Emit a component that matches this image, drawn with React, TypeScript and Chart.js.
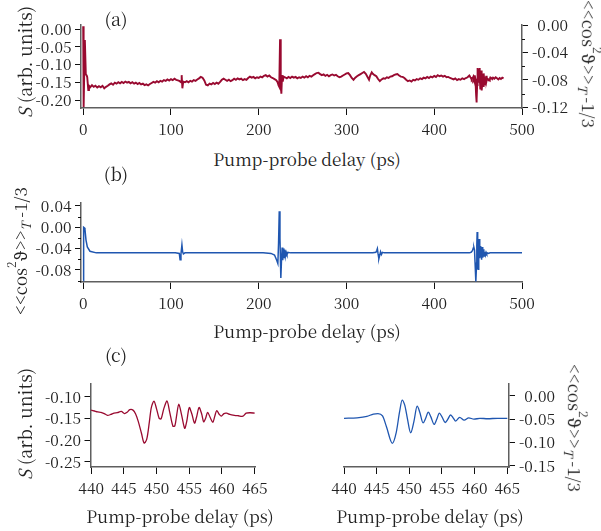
import React, { useEffect, useRef } from "react";
import { Chart, registerables } from "chart.js";
Chart.register(...registerables);

const FONT = '"Noto Serif CJK SC", "Noto Serif", serif';
const RED = "#990a30";
const BLUE = "#1f56b0";
const AXIS = "#5f5f5f";
const TEXT = "#222222";

// ---------- tick values ----------
const xTicksFull = [0, 100, 200, 300, 400, 500];
const xTicksZoom = [440, 445, 450, 455, 460, 465];
const yTicksA = [0, -0.05, -0.1, -0.15, -0.2];
const yTicksA2 = [0, -0.04, -0.08, -0.12];
const yMinorA2 = [-0.02, -0.06, -0.1];
const yTicksB = [0.04, 0, -0.04, -0.08];
const yMinorB = [0.02, -0.02, -0.06, -0.1];
const yTicksC1 = [-0.1, -0.15, -0.2, -0.25];
const yTicksC2 = [0, -0.05, -0.1, -0.15];

// ---------- measured signal S (delay ps, value) ----------
const measEarly: [number, number][] = [
  [0, 0.008], [0.5, -0.22], [1.9, -0.031], [3.0, -0.128], [4.0, -0.131], [4.6, -0.136], [5.8, -0.172],
  [6.6, -0.160], [8, -0.164], [10, -0.158], [12, -0.163], [14, -0.160], [16, -0.165], [18, -0.161],
  [20, -0.164], [22, -0.160], [24, -0.167], [26, -0.163], [28, -0.160], [30, -0.156], [32, -0.153],
  [34, -0.157], [36, -0.151], [38, -0.154], [40, -0.150], [42, -0.153], [44, -0.149], [46, -0.152],
  [48, -0.148], [50, -0.151], [52, -0.149], [54, -0.153], [56, -0.150], [58, -0.154], [60, -0.151],
  [62, -0.155], [64, -0.152], [66, -0.156], [68, -0.154], [70, -0.158], [72, -0.156], [74, -0.159],
  [76, -0.155], [78, -0.152], [80, -0.149], [82, -0.151], [84, -0.147], [86, -0.150], [88, -0.146],
  [90, -0.148], [92, -0.144], [94, -0.146], [96, -0.142], [98, -0.145], [100, -0.141], [102, -0.144],
  [104, -0.140], [106, -0.143], [108, -0.145], [110, -0.147],
];
const measMid: [number, number][] = [
  [111.5, -0.150], [112.2, -0.130], [113, -0.167], [114, -0.148], [116, -0.150], [118, -0.147],
  [120, -0.150], [122, -0.146], [124, -0.148], [126, -0.144], [128, -0.146], [130, -0.142], [132, -0.139],
  [134, -0.135], [136, -0.137], [138, -0.145], [140, -0.157], [142, -0.159], [144, -0.154], [146, -0.156],
  [148, -0.152], [150, -0.155], [152, -0.151], [154, -0.154], [156, -0.149], [158, -0.143], [160, -0.140],
  [162, -0.143], [164, -0.146], [166, -0.143], [168, -0.147], [170, -0.144], [172, -0.140], [174, -0.143],
  [176, -0.139], [178, -0.142], [180, -0.140], [182, -0.144], [184, -0.141], [186, -0.143], [188, -0.138],
  [190, -0.134], [192, -0.137], [194, -0.135], [196, -0.139], [198, -0.136], [200, -0.138], [202, -0.134],
  [204, -0.136], [206, -0.132], [208, -0.130], [210, -0.134], [212, -0.131], [214, -0.136], [216, -0.138],
  [218, -0.141], [220, -0.144],
];
const measHalf: [number, number][] = [
  [221.5, -0.150], [222.6, -0.159], [223.4, -0.163], [224.3, -0.029], [225.1, -0.158], [225.8, -0.182],
  [226.6, -0.130], [227.4, -0.148], [228.3, -0.134],
];
const measLate: [number, number][] = [
  [230, -0.136], [232, -0.139], [234, -0.135], [236, -0.138], [238, -0.134], [240, -0.137], [242, -0.135],
  [244, -0.139], [246, -0.136], [248, -0.138], [250, -0.134], [252, -0.137], [254, -0.133], [256, -0.136],
  [258, -0.132], [260, -0.134], [262, -0.130], [264, -0.127], [266, -0.124], [268, -0.123], [270, -0.127],
  [272, -0.130], [274, -0.128], [276, -0.132], [278, -0.129], [280, -0.133], [282, -0.130], [284, -0.128],
  [286, -0.131], [288, -0.129], [290, -0.133], [292, -0.136], [294, -0.134], [296, -0.131], [298, -0.128],
  [300, -0.125], [302, -0.124], [304, -0.130], [306, -0.138], [308, -0.143], [310, -0.137], [312, -0.133],
  [314, -0.130], [316, -0.127], [318, -0.124], [320, -0.121], [322, -0.126], [324, -0.135], [325.7, -0.143],
  [327, -0.131], [328.8, -0.122], [330, -0.126], [332, -0.130], [334, -0.133], [336, -0.141], [338, -0.147],
  [340, -0.142], [342, -0.139], [344, -0.140], [346, -0.136], [348, -0.138], [350, -0.134], [352, -0.133],
  [354, -0.130], [356, -0.128], [358, -0.127], [360, -0.131], [362, -0.134], [364, -0.135], [366, -0.138],
  [368, -0.143], [370, -0.147], [372, -0.145], [374, -0.148], [376, -0.143], [378, -0.145], [380, -0.141],
  [382, -0.143], [384, -0.139], [386, -0.141], [388, -0.137], [390, -0.139], [392, -0.135], [394, -0.138],
  [396, -0.134], [398, -0.136], [400, -0.132], [402, -0.135], [404, -0.130], [406, -0.133], [408, -0.131],
  [410, -0.134], [412, -0.132], [414, -0.136], [416, -0.135], [418, -0.138], [420, -0.140], [422, -0.142],
  [424, -0.139], [426, -0.144], [428, -0.141], [430, -0.143], [432, -0.139], [434, -0.141], [436, -0.138],
  [438, -0.136],
];
// full revival region, measured (also panel c, left)
const measRevival: [number, number][] = [
  [440.0, -0.131], [440.5, -0.133], [441.0, -0.135], [441.5, -0.136], [442.0, -0.139], [442.5, -0.143],
  [443.0, -0.141], [443.5, -0.138], [444.0, -0.137], [444.6, -0.134], [445.1, -0.139], [445.5, -0.136],
  [445.9, -0.130], [446.4, -0.131], [446.8, -0.140], [447.2, -0.157], [447.7, -0.185], [448.1, -0.207],
  [448.5, -0.198], [448.9, -0.158], [449.2, -0.125], [449.6, -0.110], [450.0, -0.128], [450.4, -0.150],
  [450.7, -0.151], [451.1, -0.128], [451.6, -0.110], [452.0, -0.135], [452.5, -0.168], [452.8, -0.167],
  [453.1, -0.140], [453.4, -0.117], [453.8, -0.140], [454.3, -0.173], [454.6, -0.158], [455.0, -0.125],
  [455.4, -0.140], [455.8, -0.161], [456.1, -0.148], [456.5, -0.125], [456.9, -0.140], [457.2, -0.158],
  [457.5, -0.150], [457.8, -0.136], [458.2, -0.148], [458.6, -0.159], [458.9, -0.145], [459.2, -0.132],
  [459.6, -0.141], [459.9, -0.145], [460.3, -0.139], [460.7, -0.138], [461.2, -0.141], [461.9, -0.143],
  [462.5, -0.144], [463.2, -0.145], [463.7, -0.138], [464.3, -0.137], [465.0, -0.138],
];
const measTail: [number, number][] = [
  [466, -0.141], [467, -0.137], [468.5, -0.140], [470, -0.136], [471.5, -0.139], [473, -0.142],
  [474.5, -0.138], [476, -0.141], [477.5, -0.137], [479, -0.139],
];

// ---------- simulated alignment <<cos^2>> - 1/3 ----------
const simEarly: [number, number][] = [
  [0, -0.1], [0.5, 0.0], [1.2, -0.001], [2.0, -0.004], [3.2, -0.024], [4.7, -0.037], [7.7, -0.045],
  [15, -0.048], [105, -0.048],
];
const simQuarter: [number, number][] = [
  [109.5, -0.049], [110.4, -0.061], [111.4, -0.050], [112.5, -0.033], [113.3, -0.046], [114.2, -0.050],
  [116, -0.048], [205, -0.048],
];
const simHalf: [number, number][] = [
  [214, -0.049], [218, -0.052], [220.5, -0.062], [221.8, -0.068], [222.6, -0.030], [223.4, 0.030],
  [224.2, -0.020], [225.2, -0.095], [226.0, -0.060], [226.7, -0.038], [227.4, -0.062], [228.1, -0.040],
  [228.8, -0.058], [229.5, -0.043], [230.3, -0.055], [231.2, -0.046], [232.2, -0.051], [233.5, -0.047],
  [236, -0.048], [330, -0.048],
];
const simThreeQuarter: [number, number][] = [
  [333.5, -0.047], [334.6, -0.043], [335.2, -0.040], [336.0, -0.050], [336.9, -0.059], [337.8, -0.053],
  [338.8, -0.046], [339.8, -0.051], [341, -0.047], [343, -0.048],
];
// full revival region, simulated (also panel c, right)
const simRevival: [number, number][] = [
  [440, -0.048], [442, -0.047], [443.5, -0.044], [444.5, -0.039], [445.2, -0.038], [445.9, -0.043],
  [446.5, -0.066], [447.4, -0.1015], [448.0, -0.078], [448.5, -0.035], [448.9, -0.009], [449.3, -0.020],
  [449.7, -0.048], [450.2, -0.079], [450.7, -0.055], [451.2, -0.022], [451.6, -0.035], [452.1, -0.058],
  [452.5, -0.048], [452.9, -0.035], [453.3, -0.045], [453.8, -0.061], [454.2, -0.050], [454.6, -0.037],
  [455.0, -0.045], [455.5, -0.057], [455.9, -0.050], [456.3, -0.041], [456.7, -0.047], [457.1, -0.054],
  [457.7, -0.046], [458.4, -0.052], [459.1, -0.047], [459.9, -0.050], [460.8, -0.048], [462, -0.049],
  [463.5, -0.048], [465, -0.048],
];
const simTail: [number, number][] = [[470, -0.048], [500, -0.048]];

const toXY = (arr: [number, number][]) => arr.map(([x, y]) => ({ x, y }));

// ---------- scale helpers ----------
const tickFont = { family: FONT, size: 15.5 };

function xScale(min: number, max: number, ticks: number[], height: number) {
  return {
    type: "linear",
    position: "bottom",
    min,
    max,
    afterBuildTicks: (s: any) => {
      s.ticks = ticks.map((v) => ({ value: v }));
    },
    afterFit: (s: any) => {
      s.height = height;
    },
    ticks: {
      autoSkip: false,
      maxRotation: 0,
      minRotation: 0,
      padding: 5,
      color: TEXT,
      font: tickFont,
      callback: (v: any) => String(v),
    },
    grid: { display: true, drawOnChartArea: false, drawTicks: true, tickLength: 7, tickColor: "#111", tickWidth: 1 },
    border: { display: true, color: AXIS, width: 1.5 },
  };
}

function yScale(position: string, min: number, max: number, ticks: number[], width: number, far = false) {
  return {
    type: "linear",
    position,
    min,
    max,
    afterBuildTicks: (s: any) => {
      s.ticks = ticks.map((v) => ({ value: v }));
    },
    afterFit: (s: any) => {
      s.width = width;
    },
    ticks: {
      autoSkip: false,
      padding: position === "left" ? 3.5 : 4,
      color: TEXT,
      font: tickFont,
      crossAlign: far ? "far" : "near",
      callback: (v: any) => Number(v).toFixed(2),
    },
    grid: { display: true, drawOnChartArea: false, drawTicks: true, tickLength: 6, tickColor: "#111", tickWidth: 1 },
    border: { display: true, color: AXIS, width: 1.5 },
  };
}

function minorPlugin(scaleId: string, values: number[], side: "left" | "right", length: number) {
  return {
    id: "minor_" + scaleId,
    afterDraw(chart: any) {
      const sc = chart.scales[scaleId];
      if (!sc) return;
      const ctx = chart.ctx;
      ctx.save();
      ctx.strokeStyle = "#111";
      ctx.lineWidth = 1;
      for (const v of values) {
        const y = Math.round(sc.getPixelForValue(v)) + 0.5;
        const x0 = side === "left" ? sc.right : sc.left;
        const x1 = side === "left" ? x0 - length : x0 + length;
        ctx.beginPath();
        ctx.moveTo(x0, y);
        ctx.lineTo(x1, y);
        ctx.stroke();
      }
      ctx.restore();
    },
  };
}

function baseOptions(padding: any, scales: any) {
  return {
    responsive: false,
    animation: false,
    devicePixelRatio: 1,
    layout: { padding },
    plugins: { legend: { display: false }, tooltip: { enabled: false } },
    elements: { point: { radius: 0 } },
    scales,
  };
}

function ChartCanvas({ left, top, width, height, make }: any) {
  const ref = useRef<HTMLCanvasElement | null>(null);
  useEffect(() => {
    const chart = new Chart(ref.current as HTMLCanvasElement, make());
    return () => chart.destroy();
  }, []);
  return (
    <canvas
      ref={ref}
      width={width}
      height={height}
      style={{ position: "absolute", left, top, width, height }}
    />
  );
}

function Label({ x, y, rot = 0, size = 17, children }: any) {
  return (
    <div
      style={{
        position: "absolute",
        left: x,
        top: y,
        transform: `translate(-50%, -50%) rotate(${rot}deg)`,
        whiteSpace: "nowrap",
        fontFamily: FONT,
        fontSize: size,
        color: TEXT,
        lineHeight: 1,
      }}
    >
      {children}
    </div>
  );
}

const CosTitle = () => (
  <span>
    &lt;&lt;cos
    <span style={{ fontSize: "0.7em", position: "relative", top: "-0.9em" }}>2</span>
    ϑ&gt;&gt;
    <span style={{ fontSize: "0.75em", position: "relative", top: "0.3em", fontStyle: "italic" }}>T</span>
    {" -1/3"}
  </span>
);

const STitle = () => (
  <span>
    <i>S</i> (arb. units)
  </span>
);

const makeA = () => ({
  type: "line",
  data: {
    datasets: [
      {
        data: toXY([...measEarly, ...measMid, ...measHalf, ...measLate, ...measRevival, ...measTail]),
        borderColor: RED,
        borderWidth: 1.9,
        tension: 0,
        yAxisID: "y",
      },
    ],
  },
  options: baseOptions(
    { top: 25, left: 0, right: 33, bottom: 0 },
    {
      x: xScale(-2.5, 500, xTicksFull, 37),
      y: yScale("left", -0.2225, 0.0113, yTicksA, 81),
      y2: yScale("right", -0.121, 0.0, yTicksA2, 46, true),
    }
  ),
  plugins: [minorPlugin("y2", yMinorA2, "right", 3)],
});

const makeB = () => ({
  type: "line",
  data: {
    datasets: [
      {
        data: toXY([...simEarly, ...simQuarter, ...simHalf, ...simThreeQuarter, ...simRevival, ...simTail]),
        borderColor: BLUE,
        borderWidth: 1.5,
        tension: 0,
      },
    ],
  },
  options: baseOptions(
    { top: 23, left: 0, right: 79, bottom: 0 },
    {
      x: xScale(-2.5, 500, xTicksFull, 38),
      y: yScale("left", -0.1027, 0.0456, yTicksB, 81),
    }
  ),
  plugins: [minorPlugin("y", yMinorB, "left", 3)],
});

const makeC1 = () => ({
  type: "line",
  data: {
    datasets: [
      {
        data: toXY(measRevival),
        borderColor: RED,
        borderWidth: 1.3,
        tension: 0.3,
      },
    ],
  },
  options: baseOptions(
    { top: 14, left: 0, right: 45, bottom: 0 },
    {
      x: xScale(439.9, 465.05, xTicksZoom, 38),
      y: yScale("left", -0.2622, -0.0707, yTicksC1, 90.5),
    }
  ),
});

const makeC2 = () => ({
  type: "line",
  data: {
    datasets: [
      {
        data: toXY(simRevival),
        borderColor: BLUE,
        borderWidth: 1.3,
        cubicInterpolationMode: "monotone",
      },
    ],
  },
  options: baseOptions(
    { top: 14, left: 44, right: 46, bottom: 0 },
    {
      x: xScale(440, 465.26, xTicksZoom, 38),
      y: yScale("right", -0.1522, 0.0253, yTicksC2, 46, true),
    }
  ),
});

export default function App() {
  return (
    <div
      style={{
        position: "absolute",
        left: 0,
        top: 0,
        width: 601,
        height: 531,
        overflow: "hidden",
        background: "#ffffff",
      }}
    >
      <ChartCanvas left={0} top={0} width={601} height={145} make={makeA} />
      <ChartCanvas left={0} top={180} width={601} height={140} make={makeB} />
      <ChartCanvas left={0} top={370} width={300} height={135} make={makeC1} />
      <ChartCanvas left={300} top={370} width={301} height={135} make={makeC2} />

      <Label x={116} y={18} size={18}>(a)</Label>
      <Label x={116} y={173} size={18}>(b)</Label>
      <Label x={116} y={354} size={18}>(c)</Label>

      <Label x={307} y={158}>Pump-probe delay (ps)</Label>
      <Label x={307} y={330}>Pump-probe delay (ps)</Label>
      <Label x={180} y={515}>Pump-probe delay (ps)</Label>
      <Label x={430} y={515}>Pump-probe delay (ps)</Label>

      <Label x={24} y={62} rot={-90} size={18}><STitle /></Label>
      <Label x={24} y={424} rot={-90} size={18}><STitle /></Label>
      <Label x={589} y={64} rot={90}><CosTitle /></Label>
      <Label x={575} y={428} rot={90}><CosTitle /></Label>
      <Label x={20} y={251} rot={-90}><CosTitle /></Label>
    </div>
  );
}
